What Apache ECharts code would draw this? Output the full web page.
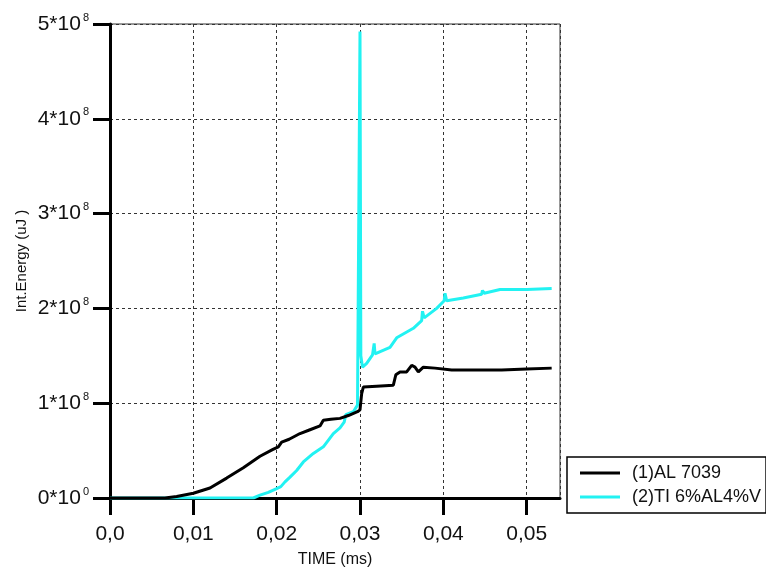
<!DOCTYPE html>
<html>
<head>
<meta charset="utf-8">
<script src="https://cdn.jsdelivr.net/npm/echarts@6/dist/echarts.min.js"></script>
<style>html,body{margin:0;padding:0;background:#fff}#c{width:766px;height:572px}</style>
</head>
<body>
<div id="c"></div>
<script>
// Series names
const seriesNames = ['(1)AL 7039', '(2)TI 6%AL4%V'];
// X tick values (ms)
const xTicks = [0, 0.01, 0.02, 0.03, 0.04, 0.05];
const xTickLabels = ['0,0', '0,01', '0,02', '0,03', '0,04', '0,05'];
// Y tick labels: mantissa and exponent
const yMant = ['0', '1', '2', '3', '4', '5'];
const yExp = ['0', '8', '8', '8', '8', '8'];

// (1) AL 7039
const alTime = [0, 0.0066, 0.008, 0.01, 0.012, 0.014, 0.016, 0.018, 0.0195, 0.0202, 0.0206, 0.0215, 0.0228, 0.024, 0.0252, 0.0256, 0.0265, 0.0276, 0.0286, 0.0297, 0.0300, 0.0302, 0.0304, 0.032, 0.034, 0.0343, 0.0348, 0.0356, 0.0362, 0.0366, 0.0370, 0.0376, 0.039, 0.041, 0.044, 0.047, 0.050, 0.053];
const alEnergy = [0, 0, 0.015e8, 0.05e8, 0.105e8, 0.21e8, 0.32e8, 0.44e8, 0.51e8, 0.54e8, 0.59e8, 0.62e8, 0.68e8, 0.72e8, 0.76e8, 0.82e8, 0.83e8, 0.84e8, 0.87e8, 0.91e8, 0.93e8, 1.10e8, 1.17e8, 1.18e8, 1.19e8, 1.30e8, 1.33e8, 1.33e8, 1.40e8, 1.38e8, 1.33e8, 1.38e8, 1.37e8, 1.35e8, 1.35e8, 1.35e8, 1.36e8, 1.37e8];

// (2) TI 6%AL4%V
const tiTime = [0, 0.0172, 0.018, 0.019, 0.020, 0.0205, 0.021, 0.0216, 0.0224, 0.0232, 0.0244, 0.0256, 0.0268, 0.0276, 0.0281, 0.0283, 0.0292, 0.0297, 0.0300, 0.0301, 0.0303, 0.0308, 0.0315, 0.0317, 0.0318, 0.0336, 0.0344, 0.0364, 0.0374, 0.0375, 0.0377, 0.0392, 0.0401, 0.0402, 0.0404, 0.0424, 0.0446, 0.0447, 0.0449, 0.0468, 0.050, 0.053];
const tiEnergy = [0, 0, 0.03e8, 0.06e8, 0.10e8, 0.12e8, 0.17e8, 0.22e8, 0.29e8, 0.38e8, 0.47e8, 0.54e8, 0.68e8, 0.74e8, 0.80e8, 0.88e8, 0.91e8, 0.98e8, 4.92e8, 1.50e8, 1.38e8, 1.42e8, 1.51e8, 1.63e8, 1.52e8, 1.59e8, 1.69e8, 1.79e8, 1.87e8, 1.97e8, 1.90e8, 2.00e8, 2.08e8, 2.16e8, 2.08e8, 2.11e8, 2.15e8, 2.19e8, 2.16e8, 2.20e8, 2.20e8, 2.21e8];

const zip = (a, b) => a.map((v, i) => [v, b[i]]);
const FONT = '"Liberation Sans", Arial, sans-serif';

const chart = echarts.init(document.getElementById('c'), null, {renderer: 'canvas'});
chart.setOption({
  animation: false,
  backgroundColor: '#fff',
  grid: {left: 110, top: 24, right: 206, bottom: 74, outerBoundsMode: 'none', show: true, borderColor: '#333', borderWidth: 1, backgroundColor: 'transparent'},
  xAxis: {
    type: 'value', min: 0, max: 0.054, interval: 0.01,
    name: 'TIME (ms)', nameLocation: 'middle', nameGap: 54, nameMoveOverlap: false,
    nameTextStyle: {fontFamily: FONT, fontSize: 16, color: '#111'},
    axisLine: {show: true, onZero: false, lineStyle: {color: '#000', width: 3}},
    axisTick: {show: true, inside: false, length: 17, lineStyle: {color: '#000', width: 3}},
    axisLabel: {
      margin: 26, fontFamily: FONT, fontSize: 21, color: '#111',
      showMaxLabel: false,
      formatter: v => { const i = xTicks.findIndex(t => Math.abs(t - v) < 1e-9); return i >= 0 ? xTickLabels[i] : ''; }
    },
    splitLine: {show: true, lineStyle: {color: '#333', width: 1, type: [3, 3]}}
  },
  yAxis: {
    type: 'value', min: 0, max: 5e8, interval: 1e8,
    name: 'Int.Energy (uJ )', nameLocation: 'middle', nameGap: 81, nameMoveOverlap: false,
    nameTextStyle: {fontFamily: FONT, fontSize: 15, color: '#111'},
    axisLine: {show: true, onZero: false, lineStyle: {color: '#000', width: 3}},
    axisTick: {show: true, inside: false, length: 17, lineStyle: {color: '#000', width: 3}},
    axisLabel: {
      margin: 21, fontFamily: FONT, color: '#111',
      formatter: v => { const i = Math.round(v / 1e8); return '{b|' + yMant[i] + '*10}{s|' + yExp[i] + '}'; },
      rich: {
        b: {fontFamily: FONT, fontSize: 21, color: '#111', lineHeight: 24},
        s: {fontFamily: FONT, fontSize: 11, color: '#111', lineHeight: 24, padding: [0, 0, 13, 2]}
      }
    },
    splitLine: {show: true, lineStyle: {color: '#333', width: 1, type: [3, 3]}}
  },
  legend: {
    orient: 'vertical', left: 567, top: 457,
    backgroundColor: '#fff', borderColor: '#000', borderWidth: 1.5, borderRadius: 0,
    padding: [7, 5, 7, 13], itemGap: 6, itemWidth: 40, itemHeight: 3, icon: 'rect',
    textStyle: {fontFamily: FONT, fontSize: 18, color: '#111', padding: [0, 0, 0, 7]},
    data: seriesNames
  },
  series: [
    {name: seriesNames[0], type: 'line', data: zip(alTime, alEnergy), symbol: 'none', lineStyle: {color: '#000', width: 3}, itemStyle: {color: '#000'}, z: 3},
    {name: seriesNames[1], type: 'line', data: zip(tiTime, tiEnergy), symbol: 'none', lineStyle: {color: '#22f2f2', width: 3}, itemStyle: {color: '#22f2f2'}, z: 2}
  ]
});
</script>
</body>
</html>
